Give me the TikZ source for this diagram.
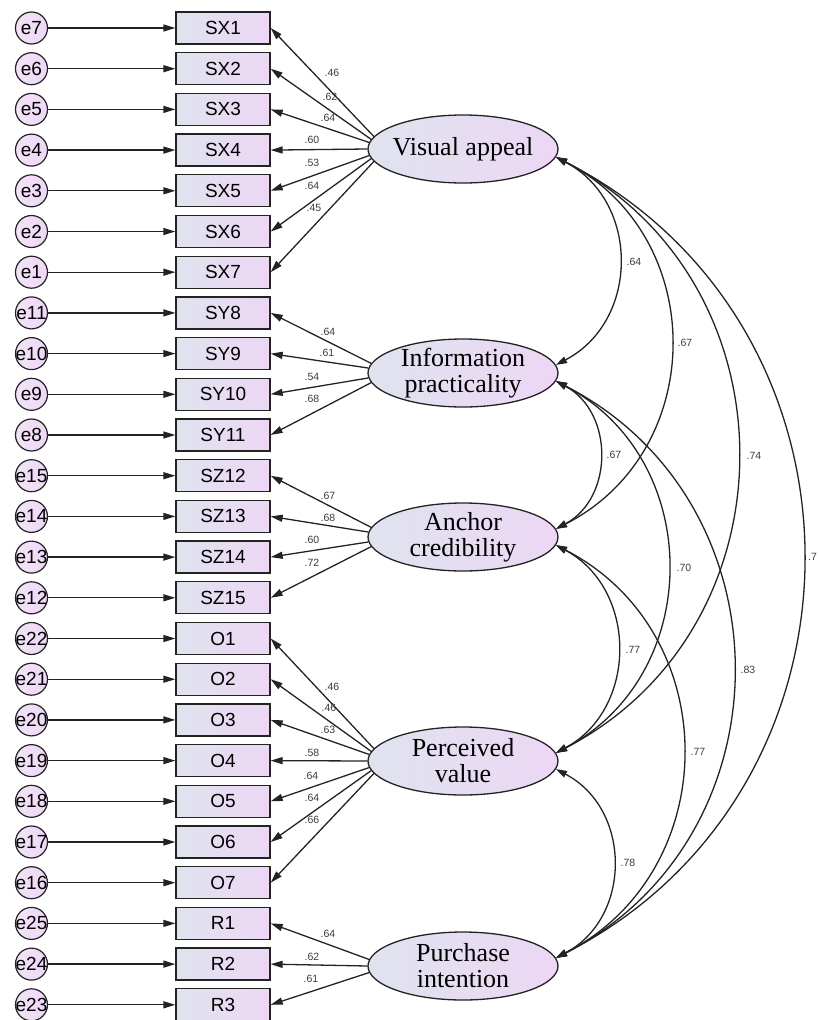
\documentclass[tikz,border=0pt]{standalone}
\usepackage{fontspec}
\setmainfont{Liberation Serif}
\newfontfamily\arialf{Liberation Sans}
\usetikzlibrary{arrows.meta,shapes.geometric}
\definecolor{lgA}{RGB}{223,227,238}
\definecolor{lgB}{RGB}{237,215,245}
\definecolor{edgec}{RGB}{35,35,35}
\definecolor{coefc}{RGB}{60,60,60}
\begin{document}
\begin{tikzpicture}[x=1pt,y=-1pt,
  obs/.style={rectangle,draw=edgec,line width=1.3pt,left color=lgA,right color=lgB,minimum width=94pt,minimum height=32pt,inner sep=0pt,font=\arialf\fontsize{19}{19}\selectfont},
  err/.style={circle,draw=edgec,line width=1.2pt,left color=lgB!70!white,right color=lgB,minimum size=32pt,inner sep=0pt,font=\arialf\fontsize{19}{19}\selectfont},
  lat/.style={ellipse,draw=edgec,line width=1.3pt,left color=lgA,right color=lgB,minimum width=190pt,minimum height=68pt,inner sep=0pt},
  latlbl/.style={font=\fontsize{26}{26}\selectfont,align=center,inner sep=0pt},
  coef/.style={font=\arialf\fontsize{10.5}{10.5}\selectfont,text=coefc,inner sep=0pt},
  arr/.style={-{Triangle[length=12pt,width=7pt]},line width=1.3pt,draw=edgec},
  cov/.style={{Triangle[length=11pt,width=7pt]}-{Triangle[length=11pt,width=7pt]},line width=1.3pt,draw=edgec},
]
\useasboundingbox (0,0) rectangle (817,1020);
% observed variables and error terms
\foreach \nm/\el [count=\k from 0] in {SX1/e7,SX2/e6,SX3/e5,SX4/e4,SX5/e3,SX6/e2,SX7/e1,
  SY8/e11,SY9/e10,SY10/e9,SY11/e8,SZ12/e15,SZ13/e14,SZ14/e13,SZ15/e12,
  O1/e22,O2/e21,O3/e20,O4/e19,O5/e18,O6/e17,O7/e16,R1/e25,R2/e24,R3/e23}{
  \node[obs] (\nm) at (223,28+40.7*\k) {\nm};
  \node[err] (\el) at (31.5,28+40.7*\k) {\makebox[0pt]{\el}};
  \draw[arr] (\el) -- (\nm);
}
% latent variables
\node[lat,label={[latlbl]center:Visual appeal}] (VA) at (463,149) {};
\node[lat,label={[latlbl]center:Information\\practicality}] (IP) at (463,373) {};
\node[lat,label={[latlbl]center:Anchor\\credibility}] (AC) at (463,537) {};
\node[lat,label={[latlbl]center:Perceived\\value}] (PV) at (463,761) {};
\node[lat,label={[latlbl]center:Purchase\\intention}] (PI) at (463,966) {};
% loadings
\foreach \t/\a in {SX1/172,SX2/174,SX3/176,SX4/180,SX5/184,SX6/186,SX7/188}
  \draw[arr] (VA.\a) -- (\t.east);
\foreach \t/\a in {SY8/174,SY9/177,SY10/183,SY11/186}
  \draw[arr] (IP.\a) -- (\t.east);
\foreach \t/\a in {SZ12/174,SZ13/177,SZ14/183,SZ15/186}
  \draw[arr] (AC.\a) -- (\t.east);
\foreach \t/\a in {O1/172,O2/174,O3/176,O4/180,O5/184,O6/186,O7/188}
  \draw[arr] (PV.\a) -- (\t.east);
\foreach \t/\a in {R1/176,R2/180,R3/184}
  \draw[arr] (PI.\a) -- (\t.east);
% loading coefficients
\node[coef] (v1) at (332,73) {.46};
\node[coef] (v2) at (330,97) {.62};
\node[coef] (v3) at (328,118) {.64};
\node[coef] (v4) at (312,140) {.60};
\node[coef] (v5) at (312,163) {.53};
\node[coef] (v6) at (312,186) {.64};
\node[coef] (v7) at (314,208) {.45};
\node[coef] (i1) at (328,332) {.64};
\node[coef] (i2) at (327,353) {.61};
\node[coef] (i3) at (312,377) {.54};
\node[coef] (i4) at (312,399) {.68};
\node[coef] (a1) at (328,496) {.67};
\node[coef] (a2) at (328,518) {.68};
\node[coef] (a3) at (312,540) {.60};
\node[coef] (a4) at (312,563) {.72};
\node[coef] (p1) at (332,687) {.46};
\node[coef] (p2) at (329,708) {.46};
\node[coef] (p3) at (328,730) {.63};
\node[coef] (p4) at (312,753) {.58};
\node[coef] (p5) at (311,776) {.64};
\node[coef] (p6) at (312,798) {.64};
\node[coef] (p7) at (312,820) {.66};
\node[coef] (r1) at (328,934) {.64};
\node[coef] (r2) at (312,957) {.62};
\node[coef] (r3) at (311,979) {.61};
% covariances
\foreach \A/\B/\dx/\dy in {VA/IP/84/44,VA/AC/153/78,VA/PV/242/125,VA/PI/329/168,
  IP/AC/58/31,IP/PV/149/78,IP/PI/236/121,AC/PV/82/44,AC/PI/169/87,PV/PI/76/40}
  \draw[cov] (\A.-5) .. controls +(\dx,\dy) and +(\dx,-\dy) .. (\B.5);
\node[coef] (k1) at (634,262) {.64};
\node[coef] (k2) at (685,343) {.67};
\node[coef] (k3) at (754,456) {.74};
\node[coef,anchor=west] (k4) at (808,557) {.7};
\node[coef] (k5) at (614,455) {.67};
\node[coef] (k6) at (684,568) {.70};
\node[coef] (k7) at (748,670) {.83};
\node[coef] (k8) at (633,650) {.77};
\node[coef] (k9) at (698,752) {.77};
\node[coef] (k10) at (628,863) {.78};
\end{tikzpicture}
\end{document}
